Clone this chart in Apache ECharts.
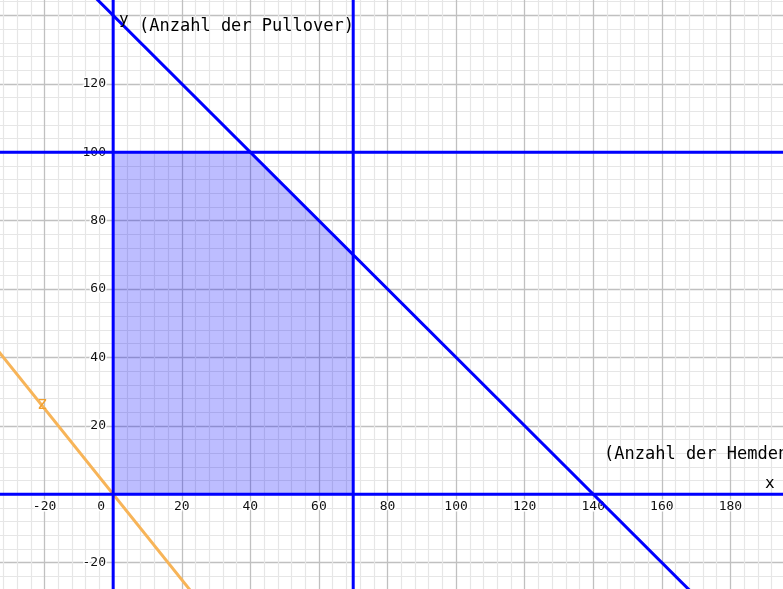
<!DOCTYPE html>
<html>
<head>
<meta charset="utf-8">
<script src="https://cdn.jsdelivr.net/npm/echarts@6/dist/echarts.min.js"></script>
<style>
  html, body { margin: 0; padding: 0; background: #fff; }
  #chart { width: 783px; height: 589px; }
</style>
</head>
<body>
<div id="chart"></div>
<script>
// feasible region corners (upper edge), filled down to y = 0
const regionTop = [[0, 100], [40, 100], [70, 70]];
// constraint lines
const lineY100 = [[-40, 100], [200, 100]];
const lineX70 = [[70, -40], [70, 160]];
const lineSum140 = [[-20, 160], [180, -40]];
const lineX0 = [[0, -40], [0, 160]];
const lineY0 = [[-40, 0], [200, 0]];
// objective line z (through origin)
const lineZ = [[-40, 50], [32, -40]];

const xHidden = [-40, 200];
const yHidden = [-40, 0, 140, 160];

const font = 'DejaVu Sans Mono';
const blue = '#0000ff';

const chart = echarts.init(document.getElementById('chart'));

function blueLine(data) {
  return {
    type: 'line', data: data, symbol: 'none', silent: true, z: 3,
    lineStyle: { color: blue, width: 3 }
  };
}

const tickLabel = {
  fontFamily: font, fontSize: 13, color: '#111',
  textBorderColor: '#fff', textBorderWidth: 3
};

chart.setOption({
  animation: false,
  grid: {
    left: -24, right: -16, top: -53, bottom: -42,
    containLabel: false, outerBoundsMode: 'none'
  },
  xAxis: {
    type: 'value', min: -40, max: 200, interval: 20,
    position: 'bottom', offset: -137,
    axisLine: { show: false, onZero: false },
    axisTick: { show: false },
    minorTick: { show: false, splitNumber: 5 },
    splitLine: { show: true, lineStyle: { color: '#c0c0c0', width: 1.3 } },
    minorSplitLine: { show: true, lineStyle: { color: '#e6e6e6', width: 1.2 } },
    axisLabel: Object.assign({}, tickLabel, {
      margin: 6,
      formatter: v => xHidden.includes(v) ? '' : (v === 0 ? '{o|0}' : String(v)),
      rich: { o: Object.assign({}, tickLabel, { padding: [0, 24, 0, 0] }) }
    })
  },
  yAxis: {
    type: 'value', min: -40, max: 160, interval: 20,
    position: 'left', offset: -137,
    axisLine: { show: false, onZero: false },
    axisTick: { show: false },
    minorTick: { show: false, splitNumber: 5 },
    splitLine: { show: true, lineStyle: { color: '#c0c0c0', width: 1.3 } },
    minorSplitLine: { show: true, lineStyle: { color: '#e6e6e6', width: 1.2 } },
    axisLabel: Object.assign({}, tickLabel, {
      margin: 7,
      formatter: v => yHidden.includes(v) ? '' : String(v)
    })
  },
  series: [
    {
      type: 'line', data: regionTop, symbol: 'none', silent: true, z: 1,
      lineStyle: { width: 0 },
      areaStyle: { origin: 0, color: 'rgba(0,0,255,0.26)', opacity: 1 }
    },
    {
      type: 'line', data: lineZ, symbol: 'none', silent: true, z: 2,
      lineStyle: { color: '#f7b458', width: 3 }
    },
    blueLine(lineY100),
    blueLine(lineX70),
    blueLine(lineSum140),
    blueLine(lineX0),
    blueLine(lineY0)
  ],
  graphic: [
    { type: 'text', left: 119, top: 12, z: 10, style: { text: 'y', font: '16px ' + font, fill: '#000' } },
    { type: 'text', left: 139, top: 18, z: 10, style: { text: '(Anzahl der Pullover)', font: '17px ' + font, fill: '#000' } },
    { type: 'text', left: 765, top: 476, z: 10, style: { text: 'x', font: '16px ' + font, fill: '#000' } },
    { type: 'text', left: 604, top: 446, z: 10, style: { text: '(Anzahl der Hemden)', font: '17px ' + font, fill: '#000' } },
    { type: 'text', left: 37, top: 395, z: 10, style: { text: 'z', font: '18px ' + font, fill: '#f0a030' } }
  ]
});
</script>
</body>
</html>
